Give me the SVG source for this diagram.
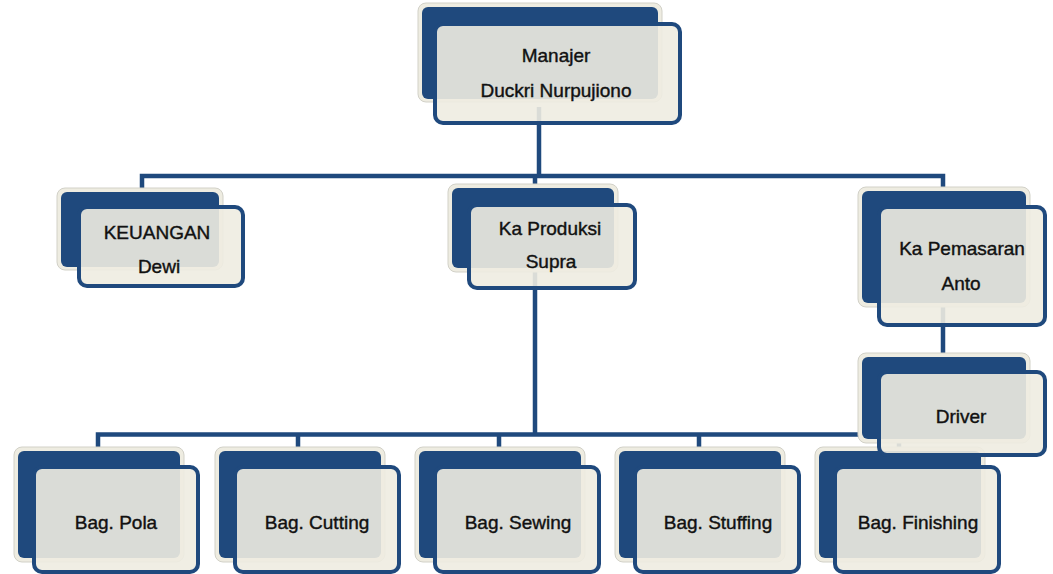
<svg xmlns="http://www.w3.org/2000/svg" width="1053" height="574" viewBox="0 0 1053 574">
<style>
.bk{fill:#EEECE1;stroke:#D2D1C8;stroke-width:1}
.bi{fill:#1F497D}
.fr{fill:#EEECE1;fill-opacity:0.9;stroke:#1F497D;stroke-width:4}
.ln{stroke:#1F497D;stroke-width:4.5;fill:none}
text{font-family:"Liberation Sans",Arial,sans-serif;font-size:19px;fill:#111;stroke:#111;stroke-width:0.4;text-anchor:middle}
</style>
<rect width="1053" height="574" fill="#fff"/>
<g id="connectors">
<path class="ln" d="M539,107V176"/>
<path class="ln" d="M142,190V176H943V190"/>
<path class="ln" d="M535,176V434"/>
<path class="ln" d="M98,448V434.5H899V448M298,434.5V448M499,434.5V448M699,434.5V448"/>
<path class="ln" d="M943,305V353"/>
</g>
<g id="n-manajer">
<rect class="bk" x="418" y="3" width="244" height="99" rx="8"/>
<rect class="bi" x="422" y="7" width="236" height="92" rx="6"/>
<rect class="fr" x="435" y="24" width="245" height="99" rx="8"/>
<text x="556" y="62">Manajer</text>
<text x="556" y="97">Duckri Nurpujiono</text>
</g>
<g id="n-keuangan">
<rect class="bk" x="57" y="188" width="166" height="82" rx="8"/>
<rect class="bi" x="61" y="192" width="158" height="75" rx="6"/>
<rect class="fr" x="79" y="207" width="164" height="79" rx="8"/>
<text x="157" y="239">KEUANGAN</text>
<text x="159" y="273">Dewi</text>
</g>
<g id="n-produksi">
<rect class="bk" x="448" y="184" width="170" height="88" rx="8"/>
<rect class="bi" x="452" y="188" width="162" height="80" rx="6"/>
<rect class="fr" x="469" y="205" width="166" height="83" rx="8"/>
<text x="550" y="235">Ka Produksi</text>
<text x="551" y="268">Supra</text>
</g>
<g id="n-pemasaran">
<rect class="bk" x="858" y="187" width="172" height="120" rx="8"/>
<rect class="bi" x="862" y="191" width="164" height="112" rx="6"/>
<rect class="fr" x="879" y="207" width="166" height="118" rx="8"/>
<text x="962" y="255">Ka Pemasaran</text>
<text x="961" y="290">Anto</text>
</g>
<g id="n-pola">
<rect class="bk" x="14" y="447" width="170" height="115" rx="8"/>
<rect class="bi" x="18" y="451" width="162" height="107" rx="6"/>
<rect class="fr" x="34" y="467" width="164" height="105" rx="8"/>
<text x="116" y="529">Bag. Pola</text>
</g>
<g id="n-cutting">
<rect class="bk" x="215" y="447" width="170" height="115" rx="8"/>
<rect class="bi" x="219" y="451" width="162" height="107" rx="6"/>
<rect class="fr" x="235" y="467" width="164" height="105" rx="8"/>
<text x="317" y="529">Bag. Cutting</text>
</g>
<g id="n-sewing">
<rect class="bk" x="415" y="447" width="170" height="115" rx="8"/>
<rect class="bi" x="419" y="451" width="162" height="107" rx="6"/>
<rect class="fr" x="435" y="467" width="164" height="105" rx="8"/>
<text x="518" y="529">Bag. Sewing</text>
</g>
<g id="n-stuffing">
<rect class="bk" x="615" y="447" width="170" height="115" rx="8"/>
<rect class="bi" x="619" y="451" width="162" height="107" rx="6"/>
<rect class="fr" x="635" y="467" width="164" height="105" rx="8"/>
<text x="718" y="529">Bag. Stuffing</text>
</g>
<g id="n-finishing">
<rect class="bk" x="815" y="447" width="170" height="115" rx="8"/>
<rect class="bi" x="819" y="451" width="162" height="107" rx="6"/>
<rect class="fr" x="835" y="467" width="164" height="105" rx="8"/>
<text x="918" y="529">Bag. Finishing</text>
</g>
<g id="n-driver">
<rect class="bk" x="858" y="353" width="172" height="90" rx="8"/>
<rect class="bi" x="862" y="357" width="164" height="82" rx="6"/>
<rect class="fr" x="879" y="372" width="166" height="83" rx="8"/>
<text x="961" y="423">Driver</text>
</g>
</svg>
